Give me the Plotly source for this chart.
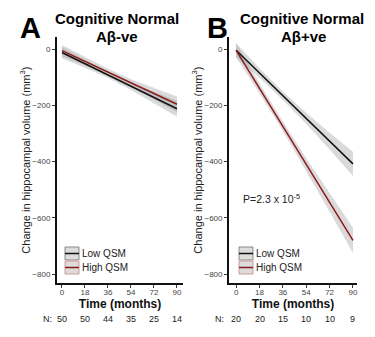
import plotly.graph_objects as go

# ---------------- data ----------------
months = [0, 18, 36, 54, 72, 90]
tick_vals_y = [0, -200, -400, -600, -800]

# Panel A: Cognitive Normal, Abeta-ve
a_low_line = [-12, -52, -92, -132, -172, -212]
a_low_upper = [8, -38, -81, -119, -152, -184]
a_low_lower = [-32, -66, -103, -145, -192, -240]
a_high_line = [-5, -43, -81, -120, -158, -196]
a_high_upper = [15, -29, -70, -107, -138, -168]
a_high_lower = [-25, -57, -92, -133, -178, -224]
a_n = [50, 50, 44, 35, 25, 14]

# Panel B: Cognitive Normal, Abeta+ve
b_low_line = [-4, -85, -166, -246, -327, -408]
b_low_upper = [21, -68, -151, -226, -297, -365]
b_low_lower = [-29, -102, -181, -266, -357, -451]
b_high_line = [-4, -139, -274, -410, -545, -680]
b_high_upper = [21, -121, -257, -388, -512, -635]
b_high_lower = [-29, -157, -291, -432, -578, -725]
b_n = [20, 20, 15, 10, 10, 9]

legend_names = ["Low QSM", "High QSM"]
p_text = "P=2.3 x 10<sup>-5</sup>"

FONT = "Arial, Liberation Sans, sans-serif"
BAND = "rgba(140,140,140,0.32)"
LOW_C = "#111111"
HIGH_C = "#8b1a1a"
W, H = 375, 337

fig = go.Figure()


def add_panel(xa, ya, low, lowu, lowl, high, highu, highl):
    for upper, lower in ((lowu, lowl), (highu, highl)):
        fig.add_trace(go.Scatter(x=months, y=upper, mode="lines", line=dict(width=0),
                                 showlegend=False, hoverinfo="skip", xaxis=xa, yaxis=ya))
        fig.add_trace(go.Scatter(x=months, y=lower, mode="lines", line=dict(width=0),
                                 fill="tonexty", fillcolor=BAND, showlegend=False,
                                 hoverinfo="skip", xaxis=xa, yaxis=ya))
    fig.add_trace(go.Scatter(x=months, y=low, mode="lines", line=dict(color=LOW_C, width=1.5),
                             name=legend_names[0], showlegend=False, xaxis=xa, yaxis=ya))
    fig.add_trace(go.Scatter(x=months, y=high, mode="lines", line=dict(color=HIGH_C, width=1.5),
                             name=legend_names[1], showlegend=False, xaxis=xa, yaxis=ya))


add_panel("x", "y", a_low_line, a_low_upper, a_low_lower,
          a_high_line, a_high_upper, a_high_lower)
add_panel("x2", "y2", b_low_line, b_low_upper, b_low_lower,
          b_high_line, b_high_upper, b_high_lower)

ydom = [0.160, 0.890]
common_x = dict(tickvals=months, ticks="outside", ticklen=3, tickcolor="#333",
                showline=True, linecolor="#111", linewidth=2, showgrid=False, zeroline=False,
                tickfont=dict(size=8, color="#444", family=FONT), ticklabelstandoff=-3,
                title=dict(text="<b>Time (months)</b>", font=dict(size=12, color="#111", family=FONT),
                           standoff=0))
common_y = dict(tickvals=tick_vals_y, range=[-832, 43], ticks="outside", ticklen=3, tickcolor="#333",
                showline=True, linecolor="#111", linewidth=2, showgrid=False, zeroline=False,
                tickfont=dict(size=8, color="#444", family=FONT), domain=ydom,
                title=dict(text="Change in hippocampal volume (mm<sup>3</sup>)",
                           font=dict(size=11, color="#222", family=FONT), standoff=0))

fig.update_layout(
    width=W, height=H, margin=dict(l=0, r=0, t=0, b=0),
    paper_bgcolor="white", plot_bgcolor="white",
    font=dict(family=FONT),
    xaxis=dict(common_x, domain=[0.152, 0.488], range=[-3.9, 94.7], anchor="y"),
    yaxis=dict(common_y, anchor="x"),
    xaxis2=dict(common_x, domain=[0.611, 0.952], range=[-5.4, 93.1], anchor="y2"),
    yaxis2=dict(common_y, anchor="x2"),
    showlegend=False,
)


def px(x):
    return x / W


def py(y):
    return 1 - y / H


ann = []
ann.append(dict(text="<b>A</b>", x=30, y=28, font=dict(size=29)))
ann.append(dict(text="<b>B</b>", x=217, y=28, font=dict(size=29)))
ann.append(dict(text="<b>Cognitive Normal</b>", x=117, y=19, font=dict(size=15)))
ann.append(dict(text="<b>Aβ-ve</b>", x=117, y=36, font=dict(size=15)))
ann.append(dict(text="<b>Cognitive Normal</b>", x=302, y=19, font=dict(size=15)))
ann.append(dict(text="<b>Aβ+ve</b>", x=303, y=36, font=dict(size=15)))
for a in ann:
    a.update(xref="paper", yref="paper", showarrow=False, xanchor="center", yanchor="middle")
    a["x"] = px(a["x"])
    a["y"] = py(a["y"])
    a["font"].update(family=FONT, color="#000")
    fig.add_annotation(**a)

# custom legend keys (box + line + label)
for x0 in (65, 239):
    for (y0, y1), name, lc, bc in (((247, 260), legend_names[0], LOW_C, "#8a8a8a"),
                                   ((261, 274), legend_names[1], HIGH_C, "#d49a9a")):
        fig.add_shape(type="rect", xref="paper", yref="paper", x0=px(x0), x1=px(x0 + 14),
                      y0=py(y1), y1=py(y0), fillcolor="#dcdcdc", line=dict(color=bc, width=1))
        ym = (y0 + y1) / 2
        fig.add_shape(type="line", xref="paper", yref="paper", x0=px(x0), x1=px(x0 + 14),
                      y0=py(ym), y1=py(ym), line=dict(color=lc, width=1.5))
        fig.add_annotation(text=name, xref="paper", yref="paper", x=px(x0 + 15), y=py(ym),
                           showarrow=False, xanchor="left", yanchor="middle",
                           font=dict(size=10, color="#222", family=FONT))

# N row
n_y = py(319)
for xref, nvals, nlab_x in (("x", a_n, 54), ("x2", b_n, 226)):
    fig.add_annotation(text="N:", xref="paper", yref="paper", x=px(nlab_x), y=n_y, showarrow=False,
                       xanchor="right", yanchor="middle", font=dict(size=9, color="#222", family=FONT))
    for m, n in zip(months, nvals):
        fig.add_annotation(text=str(n), xref=xref, yref="paper", x=m, y=n_y, showarrow=False,
                           xanchor="center", yanchor="middle",
                           font=dict(size=9, color="#222", family=FONT))

# P value
fig.add_annotation(text=p_text, xref="x2", yref="y2", x=4, y=-530, showarrow=False,
                   xanchor="left", yanchor="middle", font=dict(size=10.5, color="#222", family=FONT))

fig.write_html("out.html", config={"displayModeBar": False},
               post_script="document.body.style.margin='0px';")
